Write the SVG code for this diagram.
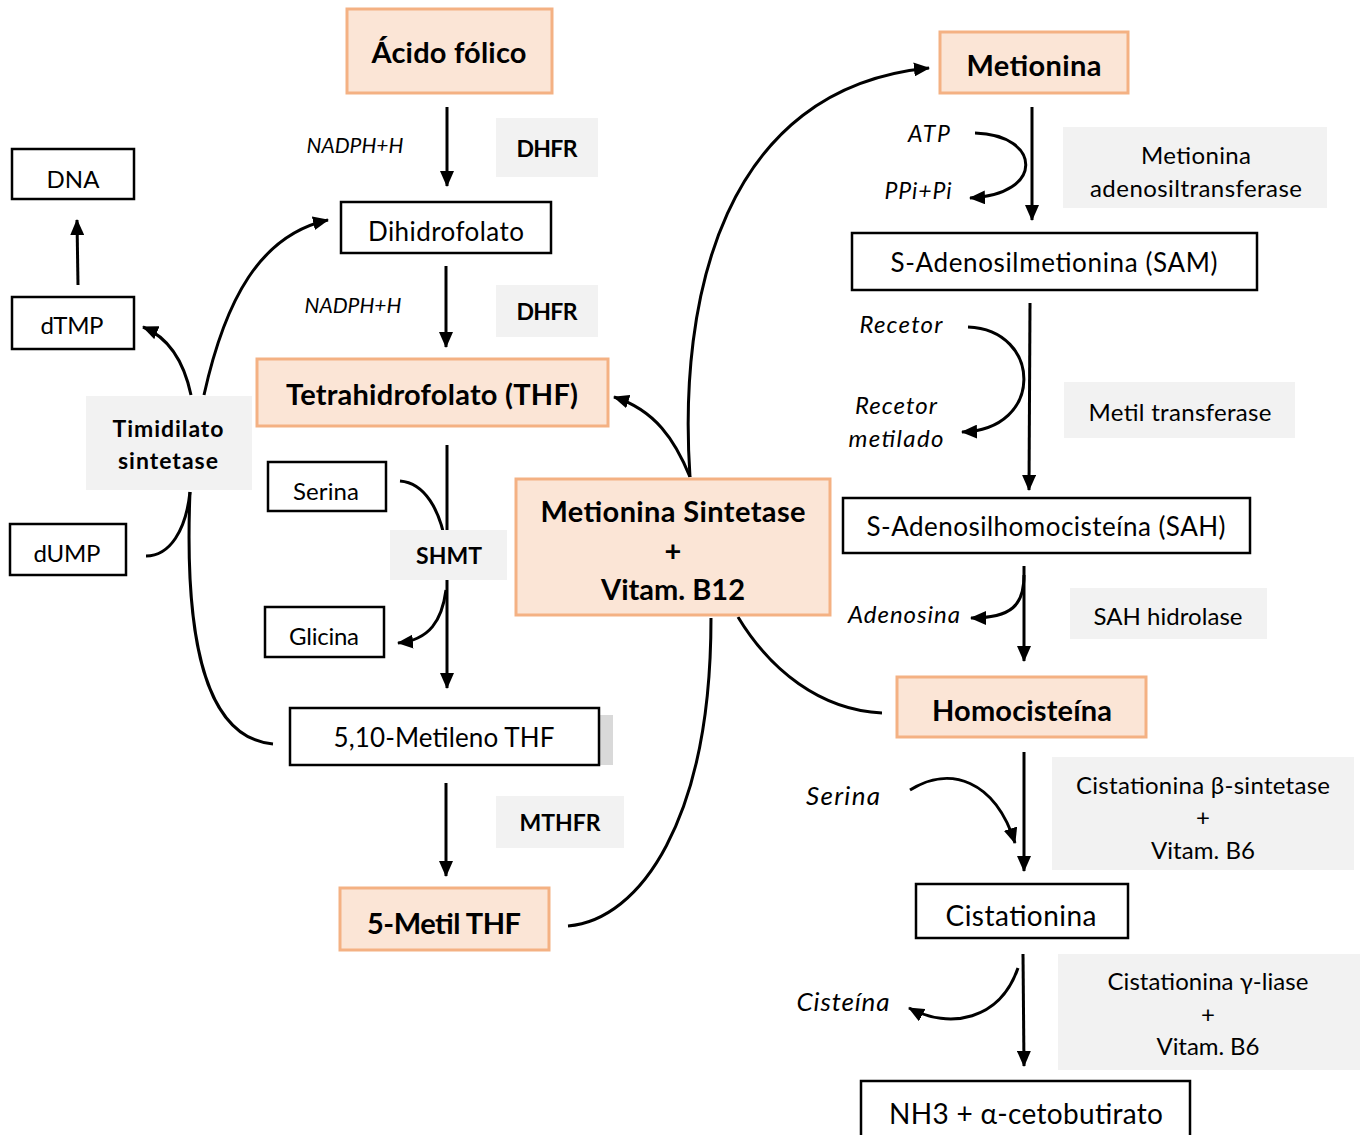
<svg xmlns="http://www.w3.org/2000/svg" width="1365" height="1135" viewBox="0 0 1365 1135">
<style>
text{font-family:Lato,"Open Sans","Liberation Sans",sans-serif;fill:#000;text-anchor:middle;dominant-baseline:central}
.org{fill:#FBE5D6;stroke:#F4B183;stroke-width:3}
.box{fill:#fff;stroke:#000;stroke-width:2.5}
.enz{fill:#F2F2F2}
.b{font-weight:bold}
.it{font-style:italic}
.t29{font-size:29px}
.t26{font-size:26px}
.t24{font-size:24px}
.t23{font-size:23px}
.t21{font-size:21px}
.ln{fill:none;stroke:#000;stroke-width:3}
.cv{fill:none;stroke:#000;stroke-width:3}
</style>
<defs>
<marker id="ah" markerUnits="userSpaceOnUse" markerWidth="16" markerHeight="14" viewBox="0 0 16 14" refX="15" refY="7" orient="auto">
<path d="M0,0 L16,7 L0,14 z" fill="#000"/>
</marker>
</defs>
<rect width="1365" height="1135" fill="#fff"/>

<g id="connectors">
<line class="ln" x1="447" y1="107" x2="447" y2="186" marker-end="url(#ah)"/>
<line class="ln" x1="446" y1="266" x2="446" y2="347" marker-end="url(#ah)"/>
<line class="ln" x1="447" y1="445" x2="447" y2="688" marker-end="url(#ah)"/>
<line class="ln" x1="446" y1="783" x2="446" y2="876" marker-end="url(#ah)"/>
<line class="ln" x1="78" y1="285" x2="77" y2="220" marker-end="url(#ah)"/>
<path class="cv" d="M191 395 C184 362 170 338 143 327" marker-end="url(#ah)"/>
<path class="cv" d="M204 395 C225 300 260 235 328 220" marker-end="url(#ah)"/>
<path class="cv" d="M146 556 C170 556 186 530 190 492"/>
<path class="cv" d="M190 492 C184 640 205 738 273 744"/>
<path class="cv" d="M400 481 C425 483 440 510 446 545"/>
<path class="cv" d="M446 590 C442 620 430 640 398 643" marker-end="url(#ah)"/>
<path class="cv" d="M690 477 C675 440 655 410 614 397" marker-end="url(#ah)"/>
<path class="cv" d="M690 477 C678 300 722 88 929 68" marker-end="url(#ah)"/>
<path class="cv" d="M568 926 C640 920 711 820 711 618"/>
<path class="cv" d="M738 617 C770 670 820 710 882 713"/>
<line class="ln" x1="1032" y1="107" x2="1032" y2="220" marker-end="url(#ah)"/>
<path class="cv" d="M975 133 C1042 135 1045 195 970 198" marker-end="url(#ah)"/>
<line class="ln" x1="1030" y1="303" x2="1029" y2="490" marker-end="url(#ah)"/>
<path class="cv" d="M968 327 C1042 330 1045 430 962 432" marker-end="url(#ah)"/>
<line class="ln" x1="1024" y1="566" x2="1024" y2="661" marker-end="url(#ah)"/>
<path class="cv" d="M1024 575 C1024 605 1012 618 971 618" marker-end="url(#ah)"/>
<line class="ln" x1="1024" y1="752" x2="1024" y2="871" marker-end="url(#ah)"/>
<path class="cv" d="M910 790 C950 765 995 780 1015 843" marker-end="url(#ah)"/>
<line class="ln" x1="1023" y1="954" x2="1024" y2="1066" marker-end="url(#ah)"/>
<path class="cv" d="M1018 968 C1000 1020 950 1030 909 1008" marker-end="url(#ah)"/>
</g>

<g id="acido-folico"><rect class="org" x="347" y="9" width="205" height="84"/><text class="b t29" x="449" y="51" textLength="155">Ácido fólico</text></g>
<g id="nadph1"><text class="it t21" x="355" y="144" textLength="97">NADPH+H</text></g>
<g id="dhfr1"><rect class="enz" x="496" y="118" width="102" height="59"/><text class="b t23" x="547" y="148" textLength="61">DHFR</text></g>
<g id="dihidrofolato"><rect class="box" x="341" y="202" width="210" height="51"/><text class="t26" x="446" y="231" textLength="156">Dihidrofolato</text></g>
<g id="nadph2"><text class="it t21" x="353" y="304" textLength="97">NADPH+H</text></g>
<g id="dhfr2"><rect class="enz" x="496" y="285" width="102" height="52"/><text class="b t23" x="547" y="311" textLength="61">DHFR</text></g>
<g id="thf"><rect class="org" x="257" y="359" width="351" height="67"/><text class="b t29" x="432" y="393" textLength="292">Tetrahidrofolato (THF)</text></g>
<g id="serina1"><rect class="box" x="268" y="462" width="118" height="49"/><text class="t24" x="326" y="490" textLength="66">Serina</text></g>
<g id="shmt"><rect class="enz" x="390" y="530" width="117" height="50"/><text class="b t23" x="449" y="555" textLength="66">SHMT</text></g>
<g id="glicina"><rect class="box" x="265" y="607" width="119" height="50"/><text class="t24" x="324" y="635" textLength="70">Glicina</text></g>
<g id="metileno-thf"><rect x="600" y="715" width="13" height="50" fill="#D9D9D9"/><rect class="box" x="290" y="708" width="309" height="57"/><text class="t26" x="444" y="737" textLength="221">5,10-Metileno THF</text></g>
<g id="mthfr"><rect class="enz" x="496" y="796" width="128" height="52"/><text class="b t23" x="560" y="822" textLength="81">MTHFR</text></g>
<g id="metil-thf"><rect class="org" x="340" y="888" width="209" height="62"/><text class="b t29" x="444" y="922" textLength="154">5-Metil THF</text></g>
<g id="met-sintetase"><rect class="org" x="516" y="479" width="314" height="136"/><text class="b t29" x="673" y="510" textLength="265">Metionina Sintetase</text><text class="b t29" x="673" y="549">+</text><text class="b t29" x="673" y="588" textLength="144">Vitam. B12</text></g>

<g id="dna"><rect class="box" x="12" y="149" width="122" height="50"/><text class="t24" x="73" y="178">DNA</text></g>
<g id="dtmp"><rect class="box" x="12" y="297" width="122" height="52"/><text class="t24" x="72" y="324" textLength="63">dTMP</text></g>
<g id="timidilato"><rect class="enz" x="86" y="396" width="166" height="94"/><text class="b t23" x="168" y="428" textLength="111">Timidilato</text><text class="b t23" x="168" y="460" textLength="100">sintetase</text></g>
<g id="dump"><rect class="box" x="10" y="524" width="116" height="51"/><text class="t24" x="67" y="552" textLength="67">dUMP</text></g>

<g id="metionina"><rect class="org" x="940" y="32" width="188" height="61"/><text class="b t29" x="1034" y="64" textLength="135">Metionina</text></g>
<g id="atp"><text class="it" style="font-size:23px" x="929" y="133" textLength="42">ATP</text><text class="it" style="font-size:23px" x="918" y="190" textLength="67">PPi+Pi</text></g>
<g id="mat"><rect class="enz" x="1063" y="127" width="264" height="81"/><text class="t24" x="1196" y="154" textLength="110">Metionina</text><text class="t24" x="1196" y="187" textLength="212">adenosiltransferase</text></g>
<g id="sam"><rect class="box" x="852" y="233" width="405" height="57"/><text class="t26" x="1054" y="262" textLength="327">S-Adenosilmetionina (SAM)</text></g>
<g id="recetor"><text class="it" style="font-size:24px" x="901" y="323" textLength="83">Recetor</text><text class="it" style="font-size:24px" x="896" y="404" textLength="82">Recetor</text><text class="it" style="font-size:24px" x="896" y="437" textLength="95">metilado</text></g>
<g id="metiltransferase"><rect class="enz" x="1064" y="382" width="231" height="56"/><text class="t24" x="1180" y="411" textLength="183">Metil transferase</text></g>
<g id="sah"><rect class="box" x="843" y="498" width="407" height="55"/><text class="t26" x="1046" y="526" textLength="359">S-Adenosilhomocisteína (SAH)</text></g>
<g id="adenosina"><text class="it" style="font-size:24px" x="904" y="613" textLength="112">Adenosina</text></g>
<g id="sahhidrolase"><rect class="enz" x="1070" y="588" width="197" height="51"/><text class="t24" x="1168" y="615" textLength="149">SAH hidrolase</text></g>
<g id="homocisteina"><rect class="org" x="897" y="677" width="249" height="60"/><text class="b t29" x="1022" y="709" textLength="180">Homocisteína</text></g>
<g id="serina2"><text class="it" style="font-size:26px" x="843" y="795" textLength="74">Serina</text></g>
<g id="cbs"><rect class="enz" x="1052" y="757" width="302" height="113"/><text class="t24" x="1203" y="784" textLength="254">Cistationina β-sintetase</text><text class="t24" x="1203" y="816">+</text><text class="t24" x="1203" y="849" textLength="104">Vitam. B6</text></g>
<g id="cistationina"><rect class="box" x="916" y="884" width="212" height="54"/><text style="font-size:28px" x="1021" y="915" textLength="151">Cistationina</text></g>
<g id="cisteina"><text class="it" style="font-size:26px" x="843" y="1001" textLength="93">Cisteína</text></g>
<g id="cgl"><rect class="enz" x="1058" y="954" width="302" height="116"/><text class="t24" x="1208" y="980" textLength="201">Cistationina γ-liase</text><text class="t24" x="1208" y="1013">+</text><text class="t24" x="1208" y="1045" textLength="103">Vitam. B6</text></g>
<g id="nh3"><rect class="box" x="861" y="1081" width="329" height="60"/><text style="font-size:28px" x="1026" y="1113" textLength="274">NH3 + α-cetobutirato</text></g>
</svg>
